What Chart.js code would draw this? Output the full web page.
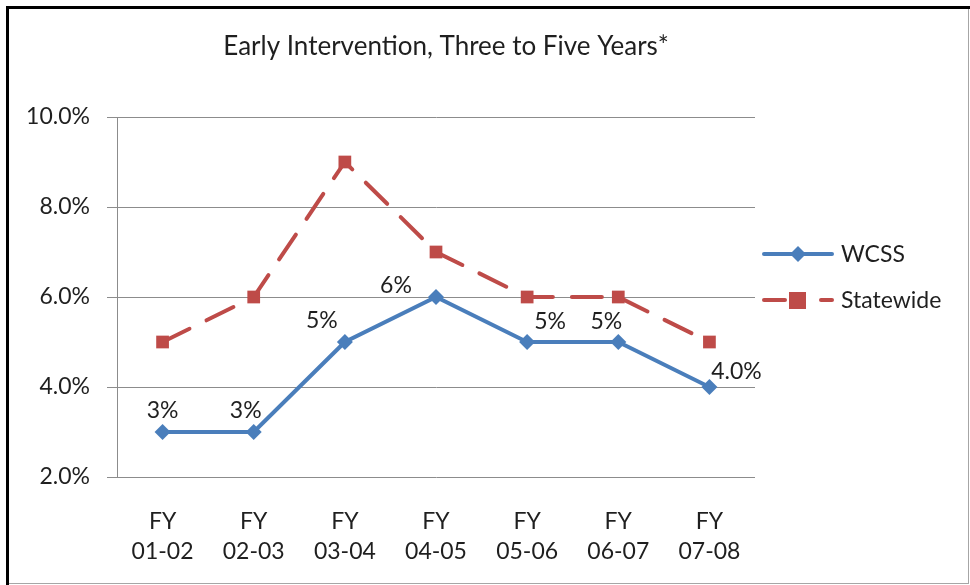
<!DOCTYPE html>
<html>
<head>
<meta charset="utf-8">
<script src="https://cdn.jsdelivr.net/npm/chart.js@4"></script>
<style>
  html, body { margin: 0; padding: 0; background: #fff; }
  #wrap { width: 970px; height: 585px; position: relative; }
</style>
</head>
<body>
<div id="wrap"><canvas id="c" width="970" height="585"></canvas></div>
<script>
// Fiscal years shown along the bottom axis
const fiscalYears = [['FY', '01-02'], ['FY', '02-03'], ['FY', '03-04'], ['FY', '04-05'], ['FY', '05-06'], ['FY', '06-07'], ['FY', '07-08']];
// Percent of students in early intervention (3 to 5 years)
const wcss = [3, 3, 5, 6, 5, 5, 4];
const statewide = [5, 6, 9, 7, 6, 6, 5];
// Value labels printed next to the WCSS points
const wcssLabels = ['3%', '3%', '5%', '6%', '5%', '5%', '4.0%'];
// Y axis tick values
const yTicks = [2, 4, 6, 8, 10];

const FONT = 'Lato, "Open Sans", sans-serif';
const TEXT = '#1f1f1f';
const BLUE = '#4A7EBB';
const RED = '#BE4B48';
const GRID = '#8c8c8c';
const LABEL_SIZE = 23;

// nudges for the WCSS value labels relative to their point (dx, dy)
const labelNudge = [[0, -21], [-8, -21], [-23, -21], [-40, -11], [23, -20], [-12, -20], [27, -15]];

const decor = {
  id: 'decor',
  beforeDraw(chart) {
    const ctx = chart.ctx;
    ctx.save();
    ctx.fillStyle = '#fff';
    ctx.fillRect(0, 0, chart.width, chart.height);
    ctx.restore();
  },
  afterDraw(chart) {
    const ctx = chart.ctx;
    ctx.save();
    // outer frame
    ctx.strokeStyle = '#a6a6a6';
    ctx.lineWidth = 1;
    ctx.strokeRect(7.5, 7.5, 961, 576);
    ctx.fillStyle = '#000';
    ctx.fillRect(6, 6, 964, 3);
    ctx.fillRect(6, 6, 3, 579);

    // title
    ctx.fillStyle = TEXT;
    ctx.font = '26px ' + FONT;
    ctx.textAlign = 'center';
    ctx.textBaseline = 'middle';
    ctx.fillText('Early Intervention, Three to Five Years*', 446, 47);

    // value labels on WCSS points
    const meta = chart.getDatasetMeta(0);
    ctx.font = LABEL_SIZE + 'px ' + FONT;
    meta.data.forEach((pt, i) => {
      const n = labelNudge[i];
      ctx.fillText(wcssLabels[i], pt.x + n[0], pt.y + n[1]);
    });

    // legend
    const items = [
      { label: chart.data.datasets[0].label, color: BLUE, y: 254, shape: 'diamond' },
      { label: chart.data.datasets[1].label, color: RED, y: 300, shape: 'square' }
    ];
    items.forEach(it => {
      ctx.strokeStyle = it.color;
      ctx.lineWidth = 4;
      ctx.lineCap = 'round';
      ctx.setLineDash([]);
      if (it.shape === 'square') {
        ctx.beginPath(); ctx.moveTo(764, it.y); ctx.lineTo(785, it.y); ctx.stroke();
        ctx.beginPath(); ctx.moveTo(821, it.y); ctx.lineTo(832, it.y); ctx.stroke();
        ctx.fillStyle = it.color;
        ctx.fillRect(789, it.y - 8, 17, 17);
      } else {
        ctx.beginPath(); ctx.moveTo(764, it.y); ctx.lineTo(832, it.y); ctx.stroke();
        ctx.fillStyle = it.color;
        ctx.beginPath();
        ctx.moveTo(798, it.y - 8); ctx.lineTo(806, it.y); ctx.lineTo(798, it.y + 8); ctx.lineTo(790, it.y);
        ctx.closePath(); ctx.fill();
      }
      ctx.fillStyle = TEXT;
      ctx.font = LABEL_SIZE + 'px ' + FONT;
      ctx.textAlign = 'left';
      ctx.fillText(it.label, 841, it.y + 1);
    });
    ctx.restore();
  }
};

new Chart(document.getElementById('c'), {
  type: 'line',
  data: {
    labels: fiscalYears,
    datasets: [
      {
        label: 'WCSS',
        data: wcss,
        borderColor: BLUE,
        backgroundColor: BLUE,
        borderWidth: 4,
        pointStyle: 'rectRot',
        pointRadius: 8,
        pointHoverRadius: 8,
        pointBorderWidth: 0,
        tension: 0,
        order: 1
      },
      {
        label: 'Statewide',
        data: statewide,
        borderColor: RED,
        backgroundColor: RED,
        borderWidth: 4,
        borderDash: [30, 19],
        borderCapStyle: 'round',
        pointStyle: 'rect',
        pointRadius: 9,
        pointHoverRadius: 9,
        pointBorderWidth: 0,
        tension: 0,
        order: 2
      }
    ]
  },
  plugins: [decor],
  options: {
    responsive: false,
    animation: false,
    events: [],
    layout: { padding: { left: 0, top: 117, right: 215, bottom: 0 } },
    plugins: {
      legend: { display: false },
      title: { display: false },
      tooltip: { enabled: false }
    },
    scales: {
      x: {
        offset: true,
        grid: { display: false, drawTicks: false },
        border: { display: false },
        ticks: { color: TEXT, font: { family: FONT, size: LABEL_SIZE, lineHeight: 1.3 }, padding: 30, maxRotation: 0, autoSkip: false },
        afterFit(scale) { scale.height = 108; }
      },
      y: {
        min: 2,
        max: 10,
        afterBuildTicks(scale) { scale.ticks = yTicks.map(v => ({ value: v })); },
        grid: { color: GRID, lineWidth: 1, tickLength: 10, drawTicks: true },
        border: { display: true, color: GRID, width: 1 },
        ticks: {
          color: TEXT,
          font: { family: FONT, size: LABEL_SIZE },
          padding: 17,
          callback: v => v.toFixed(1) + '%'
        },
        afterFit(scale) { scale.width = 117; }
      }
    }
  }
});
</script>
</body>
</html>
